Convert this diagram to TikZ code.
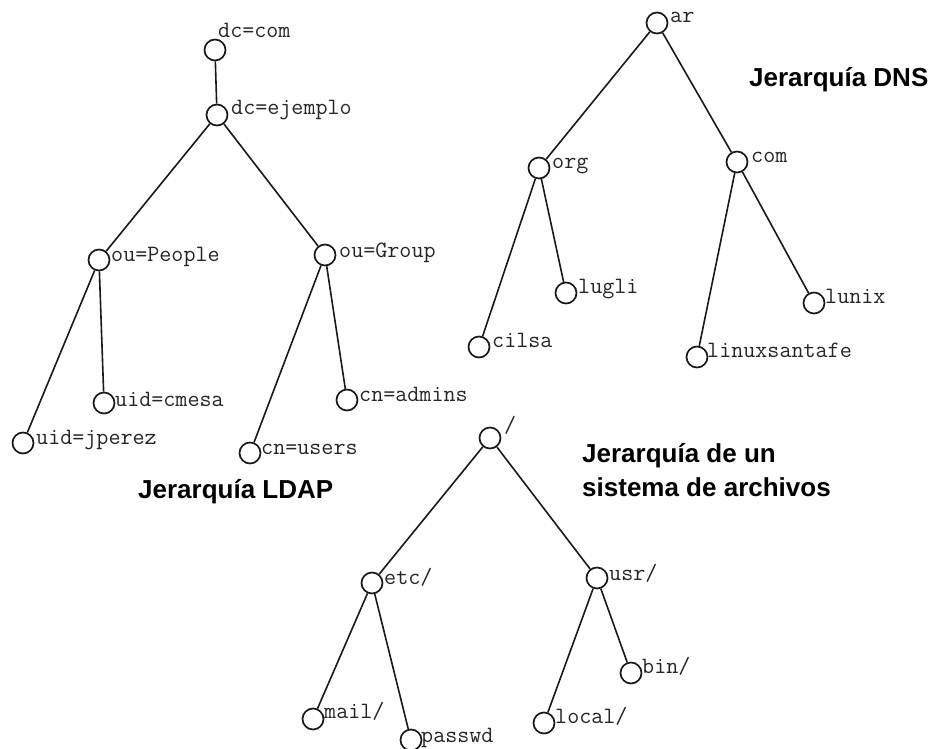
\documentclass[tikz,border=0pt]{standalone}
\usepackage{fontspec}
\setsansfont{Liberation Sans}
\begin{document}
\begin{tikzpicture}[x=1pt,y=-1pt,
  vtx/.style={circle,draw=black!90,line width=1.7pt,minimum size=21pt,inner sep=0pt},
  lbl/.style={anchor=base west,inner sep=0pt,text=black!85,
    font=\ttfamily\fontsize{23.4}{28}\selectfont},
  ttl/.style={anchor=base west,inner sep=0pt,align=left,
    font=\sffamily\bfseries\fontsize{26}{34}\selectfont},
  edge/.style={draw=black!90,line width=1.6pt}]
\useasboundingbox (0,0) rectangle (935,749);

% LDAP tree
\node[vtx] (dccom) at (215,50) {};
\node[vtx] (dcej) at (217,115) {};
\node[vtx] (people) at (99,260) {};
\node[vtx] (group) at (325,255) {};
\node[vtx] (cmesa) at (104,403) {};
\node[vtx] (jperez) at (23,443) {};
\node[vtx] (admins) at (347,400) {};
\node[vtx] (users) at (250,453) {};
\node[lbl] (dccomL) at (218,38) {dc=com};
\node[lbl] (dcejL) at (231,115) {dc=ejemplo};
\node[lbl] (peopleL) at (111,261) {ou=People};
\node[lbl] (groupL) at (339,257) {ou=Group};
\node[lbl] (cmesaL) at (115,406) {uid=cmesa};
\node[lbl] (jperezL) at (36,444) {uid=jperez};
\node[lbl] (adminsL) at (359,401) {cn=admins};
\node[lbl] (usersL) at (261,454) {cn=users};
\draw[edge] (dccom) -- (dcej);
\draw[edge] (dcej) -- (people);
\draw[edge] (dcej) -- (group);
\draw[edge] (people) -- (jperez);
\draw[edge] (people) -- (cmesa);
\draw[edge] (group) -- (users);
\draw[edge] (group) -- (admins);
\node[ttl] (ldapT) at (138,498) {Jerarquía LDAP};

% DNS tree
\node[vtx] (ar) at (657,23) {};
\node[vtx] (org) at (539,168) {};
\node[vtx] (com) at (737,162) {};
\node[vtx] (lugli) at (566,293) {};
\node[vtx] (cilsa) at (479,347) {};
\node[vtx] (lunix) at (814,303) {};
\node[vtx] (linux) at (697,357) {};
\node[lbl] (arL) at (670,23) {ar};
\node[lbl] (orgL) at (552,169) {org};
\node[lbl] (comL) at (751,163) {com};
\node[lbl] (lugliL) at (578,293) {lugli};
\node[lbl] (cilsaL) at (492,347) {cilsa};
\node[lbl] (lunixL) at (825,303) {lunix};
\node[lbl] (linuxL) at (707,357) {linuxsantafe};
\draw[edge] (ar) -- (org);
\draw[edge] (ar) -- (com);
\draw[edge] (org) -- (cilsa);
\draw[edge] (org) -- (lugli);
\draw[edge] (com) -- (linux);
\draw[edge] (com) -- (lunix);
\node[ttl] (dnsT) at (749,87) {Jerarquía DNS};

% File system tree
\node[vtx] (root) at (490,438) {};
\node[vtx] (etc) at (372,583) {};
\node[vtx] (usr) at (597,578) {};
\node[vtx] (mail) at (313,719) {};
\node[vtx] (passwd) at (411,740) {};
\node[vtx] (local) at (544,723) {};
\node[vtx] (bin) at (631,673) {};
\node[lbl] (rootL) at (504,432) {/};
\node[lbl] (etcL) at (384,584) {etc/};
\node[lbl] (usrL) at (609,580) {usr/};
\node[lbl] (mailL) at (324,718) {mail/};
\node[lbl] (passwdL) at (421,742) {passwd};
\node[lbl] (localL) at (555,723) {local/};
\node[lbl] (binL) at (642,673) {bin/};
\draw[edge] (root) -- (etc);
\draw[edge] (root) -- (usr);
\draw[edge] (etc) -- (mail);
\draw[edge] (etc) -- (passwd);
\draw[edge] (usr) -- (local);
\draw[edge] (usr) -- (bin);
\node[ttl] (fsT) at (582,496) {Jerarquía de un\\sistema de archivos};
\end{tikzpicture}
\end{document}
